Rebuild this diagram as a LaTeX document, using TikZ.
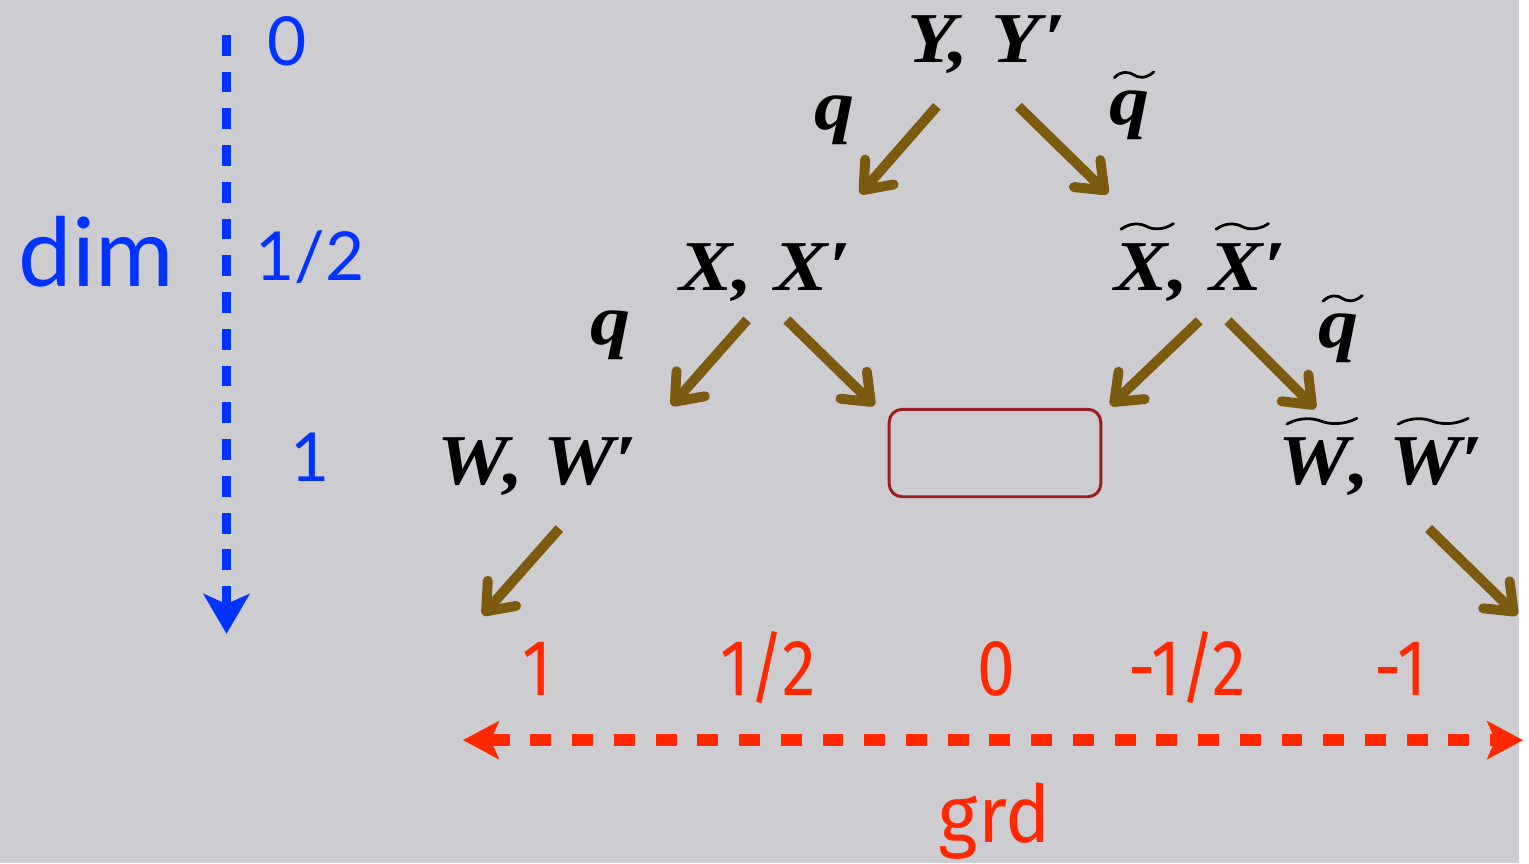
\documentclass[tikz,border=0pt]{standalone}
\usepackage{fontspec}
\setmainfont{Liberation Serif}
\newfontfamily\bluefont{Lato}
\newfontfamily\redfont{Fira Sans}
\usetikzlibrary{arrows.meta}
\definecolor{bgcol}{RGB}{204,204,209}
\definecolor{arrbrown}{RGB}{124,90,16}
\definecolor{boxred}{RGB}{155,30,30}
\definecolor{dimblue}{RGB}{0,51,255}
\definecolor{grdred}{RGB}{255,40,0}
\newcommand{\bi}[1]{{\bfseries\itshape #1}}
% letter with a wide tilde above it; #1 = height of the tilde (em)
\newcommand{\tl}[2][0.85]{\setbox0\hbox{\bfseries\itshape #2}\rlap{\tikz[baseline=0pt,x=\wd0,y=0.08em]{\path (0,0);
  \draw[yshift=#1em, line width=0.038em, line cap=round]
    (0.12,0) .. controls (0.3,1.3) and (0.5,1.0) .. (0.6,0.5)
    .. controls (0.7,0) and (0.9,-0.3) .. (1.1,1);}}\box0}
\begin{document}
\begin{tikzpicture}[x=1pt,y=-1pt,
  mlbl/.style={anchor=base, inner sep=0pt, font=\fontsize{72}{78}\selectfont, xscale=1.12, transform shape},
  bluelbl/.style={anchor=base, inner sep=0pt, text=dimblue, font=\bluefont\fontsize{68}{72}\selectfont},
  redlbl/.style={anchor=base, inner sep=0pt, text=grdred, font=\redfont\fontsize{80}{84}\selectfont, xscale=0.85},
  brarrow/.style={draw=arrbrown, line width=10pt, -{Straight Barb[length=24pt,width=38pt,round]}},
  emptybox/.style={draw=boxred, line width=3pt, rounded corners=13pt}
]
\fill[bgcol] (0,0) rectangle (1529,869);

% tree labels
\node[mlbl] (YY) at (993,63) {\bi{Y,\hspace{0.28em}Y\kern0.04em′}};
\node[mlbl] (ql1) at (840,130) {\bi{q}};
\node[mlbl] (qr1) at (1137,125) {\tl[0.65]{q}};
\node[mlbl] (XX) at (770,292) {\bi{X,\hspace{0.28em}X′}};
\node[mlbl] (XtXt) at (1208,292) {\tl{X}\bi{,\hspace{0.27em}}\tl{X}\bi{′}};
\node[mlbl] (ql2) at (615,347) {\bi{q}};
\node[mlbl] (qr2) at (1347,350) {\tl[0.65]{q}};
\node[mlbl] (WW) at (541,488) {\bi{W, W′}};
\node[mlbl] (WtWt) at (1390,488) {\tl{W}\bi{, }\tl{W}\bi{′}};
\draw[emptybox] (895,412) rectangle (1108,500);
\coordinate (box) at (1001,456);

% arrow coordinates
\coordinate (y1s) at (943,107); \coordinate (y1e) at (866,195);
\coordinate (y2s) at (1025,107); \coordinate (y2e) at (1115,195);
\coordinate (x1s) at (752,322); \coordinate (x1e) at (676,408);
\coordinate (x2s) at (792,322); \coordinate (x2e) at (880,408);
\coordinate (t1s) at (1207,323); \coordinate (t1e) at (1118,408);
\coordinate (t2s) at (1236,323); \coordinate (t2e) at (1324,411);
\coordinate (w1s) at (563,532); \coordinate (w1e) at (486,619);
\coordinate (w2s) at (1438,532); \coordinate (w2e) at (1527,619);
\draw[brarrow] (y1s) -- (y1e);
\draw[brarrow] (y2s) -- (y2e);
\draw[brarrow] (x1s) -- (x1e);
\draw[brarrow] (x2s) -- (x2e);
\draw[brarrow] (t1s) -- (t1e);
\draw[brarrow] (t2s) -- (t2e);
\draw[brarrow] (w1s) -- (w1e);
\draw[brarrow] (w2s) -- (w2e);

% dim axis
\coordinate (dtop) at (228,35);
\coordinate (dbot) at (228,638);
\draw[dimblue, line width=10pt, dash pattern=on 21pt off 16pt,
  -{Stealth[length=40pt,width=46pt,inset=10pt]}] (dtop) -- (dbot);
\node[bluelbl] (d0) at (289,66) {0};
\node[bluelbl] (dh) at (312,282) {1/2};
\node[bluelbl] (d1) at (312,485) {1};
\node[bluelbl, font=\bluefont\fontsize{96}{100}\selectfont] (dimlbl) at (97,288) {dim};

% grd axis
\coordinate (gl) at (466,745);
\coordinate (gr) at (1533,745);
\draw[grdred, line width=12pt, dash pattern=on 21pt off 21pt,
  {Stealth[length=36pt,width=38pt,inset=8pt]}-{Stealth[length=36pt,width=38pt,inset=8pt]}] (gl) -- (gr);
\node[redlbl] (g1) at (541,700) {1};
\node[redlbl] (gh) at (773,700) {1/2};
\node[redlbl] (g0) at (1003,700) {0};
\node[redlbl] (gmh) at (1195,700) {-1/2};
\node[redlbl] (gm1) at (1410,700) {-1};
\node[redlbl, xscale=0.95/0.85] (grdlbl) at (1001,848) {grd};
\end{tikzpicture}
\end{document}
